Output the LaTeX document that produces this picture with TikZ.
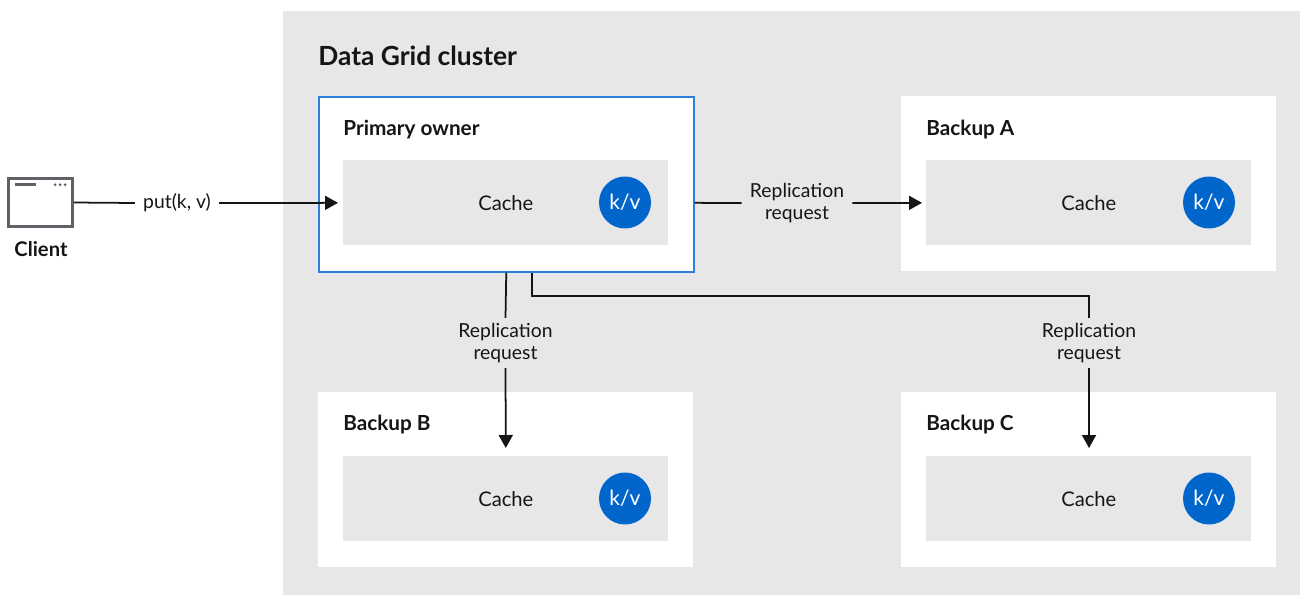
\documentclass[tikz,border=0pt]{standalone}
\usepackage{fontspec}
\setmainfont{Lato}
\usetikzlibrary{arrows.meta,calc}
\definecolor{clgrey}{HTML}{E7E7E7}
\definecolor{kvblue}{HTML}{0066CC}
\definecolor{pblue}{HTML}{2F7FDD}
\definecolor{ink}{HTML}{151515}
\definecolor{iconc}{HTML}{5F6368}
\begin{document}
\begin{tikzpicture}[x=0.02cm,y=-0.02cm,
  font=\fontsize{11pt}{13pt}\selectfont, text=ink,
  serverbox/.style={fill=white,minimum width=7.5cm,minimum height=3.5cm,inner sep=0pt,anchor=north west},
  cachebox/.style={fill=clgrey,minimum width=6.5cm,minimum height=1.7cm,inner sep=0pt,anchor=north west},
  kv/.style={circle,fill=kvblue,text=white,minimum size=1.04cm,inner sep=0pt,font=\fontsize{12pt}{14pt}\selectfont},
  boxtitle/.style={anchor=west,inner sep=0pt,font=\fontsize{11.8pt}{14pt}\selectfont\bfseries},
  cachelabel/.style={inner sep=0pt,font=\fontsize{11.5pt}{13pt}\selectfont},
  lbl/.style={align=center,inner xsep=0.16cm,inner ysep=0.09cm},
  conn/.style={draw=ink,line width=1pt},
  arr/.style={conn,-{Triangle[length=0.26cm,width=0.28cm]}}
]
\useasboundingbox (0,0) rectangle (1300,595);
\fill[clgrey] (283,11) rectangle (1300,595);
\node[anchor=west,inner sep=0pt,font=\fontsize{15pt}{17pt}\selectfont\bfseries] (title) at (318,56) {Data Grid cluster};

% Primary owner
\node[serverbox,draw=pblue,line width=0.9pt] (prim) at (318,96) {};
\node[boxtitle] (primt) at (343,130) {Primary owner};
\node[cachebox] (pcache) at (343,160) {};
\node[cachelabel] (pcachet) at (pcache.center) {Cache};
\node[kv] (pkv) at (625,202.5) {k/v};

% Backup A
\node[serverbox] (ba) at (901,96) {};
\node[boxtitle] (bat) at (926,130) {Backup A};
\node[cachebox] (acache) at (926,160) {};
\node[cachelabel] (acachet) at (acache.center) {Cache};
\node[kv] (akv) at (1209,202.5) {k/v};

% Backup B
\node[serverbox] (bb) at (318,392) {};
\node[boxtitle] (bbt) at (343,425) {Backup B};
\node[cachebox] (bcache) at (343,456) {};
\node[cachelabel] (bcachet) at (bcache.center) {Cache};
\node[kv] (bkv) at (625,498.5) {k/v};

% Backup C
\node[serverbox] (bc) at (901,392) {};
\node[boxtitle] (bct) at (926,425) {Backup C};
\node[cachebox] (ccache) at (926,456) {};
\node[cachelabel] (ccachet) at (ccache.center) {Cache};
\node[kv] (ckv) at (1209,498.5) {k/v};

% Client
\node[draw=iconc,line width=1.5pt,fill=white,minimum width=1.28cm,minimum height=0.96cm,inner sep=0pt] (client) at (40.5,202.5) {};
\draw[iconc,line width=1.4pt] ($(client.north west)+(8,7.5)$) -- ($(client.north west)+(29,7.5)$);
\foreach \dx in {48,53,58}
  \fill[iconc] ($(client.north west)+(\dx,7.5)$) circle (1.5);
\node[font=\fontsize{11.5pt}{13pt}\selectfont\bfseries,inner sep=0pt] (clientt) at (41,249) {Client};

% put arrow
\node[lbl] (put) at (177,203) {put(k, v)};
\draw[conn] (client.east) -- (put.west);
\draw[arr,shorten >=0.1cm] (put.east) -- (pcache.west);

% Replication to A
\coordinate (pright) at (pcache.east -| prim.east);
\node[lbl] (rep1) at (797,203) {Replication\\request};
\draw[conn] (pright) -- (rep1.west);
\draw[arr,shorten >=0.08cm] (rep1.east) -- (acache.west);

% Replication to B
\node[lbl] (rep2) at (505.5,343) {Replication\\request};
\draw[conn] (prim.south) -- (rep2.north);
\draw[arr,shorten >=0.16cm] (rep2.south) -- (bcache.north);

% Replication to C
\coordinate (pbot2) at ($(prim.south)+(25.5,0)$);
\node[lbl] (rep3) at (1089,343) {Replication\\request};
\draw[conn] (pbot2) |- (1089,296) -- (rep3.north);
\draw[arr,shorten >=0.16cm] (rep3.south) -- (rep3.south |- ccache.north);
\end{tikzpicture}
\end{document}
